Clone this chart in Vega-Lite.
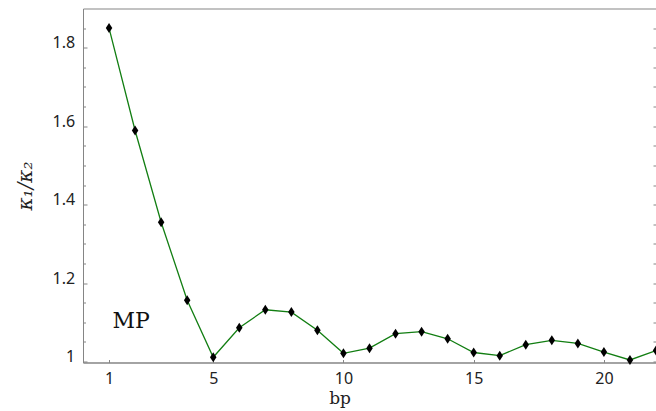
{
  "$schema": "https://vega.github.io/schema/vega-lite/v6.json",
  "width": 573,
  "height": 354,
  "autosize": {"type": "none"},
  "padding": {"left": 83, "top": 8.5, "right": 0, "bottom": 48.5},
  "background": "white",
  "config": {
    "view": {"stroke": "#858585", "strokeWidth": 1},
    "axis": {"grid": false, "domainColor": "#858585", "tickColor": "#858585", "labelColor": "#222222", "titleColor": "#222222", "labelFont": "Noto Sans", "labelFontSize": 16}
  },
  "data": {
    "values": [
      {"bp": 1, "ratio": 1.850},
      {"bp": 2, "ratio": 1.589},
      {"bp": 3, "ratio": 1.355},
      {"bp": 4, "ratio": 1.156},
      {"bp": 5, "ratio": 1.011},
      {"bp": 6, "ratio": 1.086},
      {"bp": 7, "ratio": 1.132},
      {"bp": 8, "ratio": 1.126},
      {"bp": 9, "ratio": 1.080},
      {"bp": 10, "ratio": 1.021},
      {"bp": 11, "ratio": 1.034},
      {"bp": 12, "ratio": 1.071},
      {"bp": 13, "ratio": 1.076},
      {"bp": 14, "ratio": 1.058},
      {"bp": 15, "ratio": 1.023},
      {"bp": 16, "ratio": 1.015},
      {"bp": 17, "ratio": 1.043},
      {"bp": 18, "ratio": 1.054},
      {"bp": 19, "ratio": 1.046},
      {"bp": 20, "ratio": 1.024},
      {"bp": 21, "ratio": 1.004},
      {"bp": 22, "ratio": 1.028}
    ]
  },
  "resolve": {"axis": {"y": "independent"}},
  "layer": [
    {
      "mark": {"type": "line", "color": "#127e12", "strokeWidth": 1.3},
      "encoding": {
        "x": {
          "field": "bp", "type": "quantitative",
          "scale": {"domain": [0, 22], "nice": false, "zero": false},
          "axis": {
            "values": [1, 5, 10, 15, 20], "format": "d", "tickSize": -3, "labelPadding": 10.5,
            "labelBaseline": "top", "title": "bp", "titleFont": "DejaVu Serif", "titleFontSize": 17,
            "titleFontWeight": "normal", "titleX": 256.5, "titleY": 41, "titleBaseline": "alphabetic", "titleAlign": "center"
          }
        },
        "y": {
          "field": "ratio", "type": "quantitative",
          "scale": {"domain": [0.9975, 1.9], "nice": false, "zero": false},
          "axis": {
            "orient": "left", "values": [1, 1.2, 1.4, 1.6, 1.8], "format": "~g", "tickSize": -4, "labelPadding": 12.4,
            "labelBaseline": "alphabetic", "title": "κ₁/κ₂", "titleFont": "DejaVu Serif", "titleFontStyle": "italic",
            "titleFontSize": 20, "titleFontWeight": "normal", "titleX": -57.5, "titleBaseline": "middle"
          }
        }
      }
    },
    {
      "mark": {"type": "point", "shape": "M0,-1L0.65,0L0,1L-0.65,0Z", "filled": true, "color": "#000000", "opacity": 1, "size": 100},
      "encoding": {
        "x": {"field": "bp", "type": "quantitative"},
        "y": {
          "field": "ratio", "type": "quantitative",
          "axis": {
            "orient": "left", "values": [1.05, 1.1, 1.15, 1.25, 1.3, 1.35, 1.45, 1.5, 1.55, 1.65, 1.7, 1.75, 1.85],
            "labels": false, "domain": false, "tickSize": -2.5, "title": null
          }
        }
      }
    },
    {
      "data": {"values": [{"bp": 1.13, "ratio": 1.085, "label": "MP"}]},
      "mark": {"type": "text", "align": "left", "baseline": "alphabetic", "font": "DejaVu Serif", "fontSize": 22, "fontWeight": "normal", "color": "#111111"},
      "encoding": {
        "x": {"field": "bp", "type": "quantitative"},
        "y": {
          "field": "ratio", "type": "quantitative",
          "axis": {
            "orient": "right", "values": [1, 1.05, 1.1, 1.15, 1.2, 1.25, 1.3, 1.35, 1.4, 1.45, 1.5, 1.55, 1.6, 1.65, 1.7, 1.75, 1.8, 1.85],
            "labels": false, "domain": false, "tickSize": -3, "title": null
          }
        },
        "text": {"field": "label"}
      }
    }
  ]
}
